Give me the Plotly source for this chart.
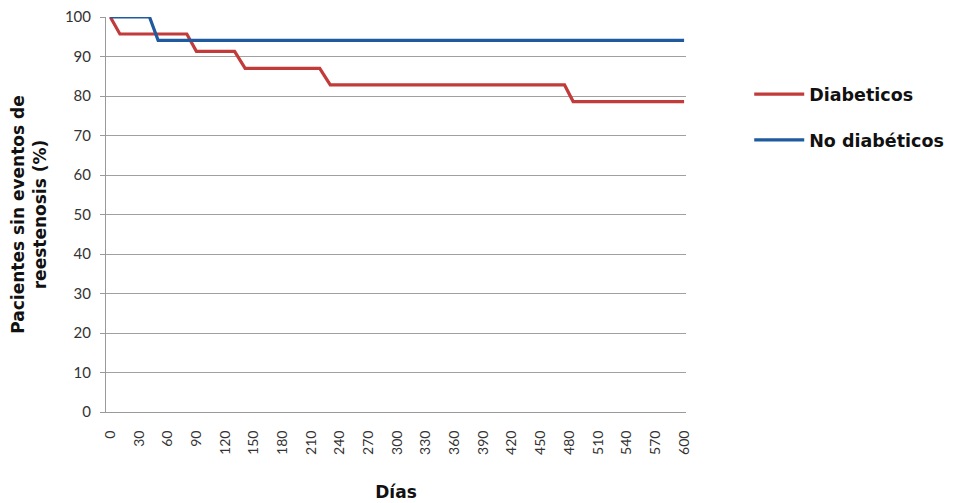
import plotly.graph_objects as go

# Data
red_days = [0, 10, 80, 90, 130, 141, 219, 230, 475, 484, 600]
red_vals = [100, 95.7, 95.7, 91.3, 91.3, 87.0, 87.0, 82.8, 82.8, 78.6, 78.6]
blue_days = [0, 41, 50, 600]
blue_vals = [100, 100, 94.1, 94.1]
x_ticks = list(range(0, 601, 30))
y_ticks = list(range(0, 101, 10))

fig = go.Figure()
fig.add_trace(go.Scatter(x=red_days, y=red_vals, mode="lines", name="Diabeticos",
                         line=dict(color="#c23b3b", width=3.2), legendgroup="a"))
fig.add_trace(go.Scatter(x=blue_days, y=blue_vals, mode="lines", name="No diabéticos",
                         line=dict(color="#1f5a9e", width=3.2), legendgroup="b"))

bold = "DejaVu Sans, Arial"
fig.update_layout(
    width=958, height=503,
    margin=dict(l=98, r=280, t=9, b=99, autoexpand=False),
    paper_bgcolor="white", plot_bgcolor="white",
    font=dict(family="Lato, Arial", color="#333333"),
    showlegend=True,
    legend=dict(x=1.109, y=0.85, xanchor="left", yanchor="top",
                font=dict(family=bold, size=17.5, color="#111111", weight="bold"),
                tracegroupgap=20, traceorder="grouped", itemwidth=50),
    xaxis=dict(range=[-4.5, 602], tickmode="array", tickvals=x_ticks,
               ticktext=[str(v) for v in x_ticks], tickangle=-90,
               tickfont=dict(family="Lato, Arial", size=14, color="#333333"),
               showgrid=False, showline=True, linecolor="#9a9a9a", linewidth=1,
               zeroline=False, ticks="", ticklabelstandoff=12, ticklabeloverflow="allow",
               title=dict(text="<b>Días</b>", font=dict(family=bold, size=17, color="#111111"),
                          standoff=32)),
    yaxis=dict(range=[0, 100], tickmode="array", tickvals=y_ticks,
               tickfont=dict(family="Lato, Arial", size=15, color="#333333"),
               showgrid=True, gridcolor="#a0a0a0", gridwidth=1,
               showline=True, linecolor="#9a9a9a", linewidth=1, zeroline=False,
               ticks="outside", ticklen=5, tickcolor="#9a9a9a", ticklabelstandoff=6,
               ticklabeloverflow="allow",
               title=dict(text="<b>Pacientes sin eventos de<br>reestenosis (%)</b>",
                          font=dict(family=bold, size=17, color="#111111"),
                          standoff=14)),
)

fig.write_html("out.html")
